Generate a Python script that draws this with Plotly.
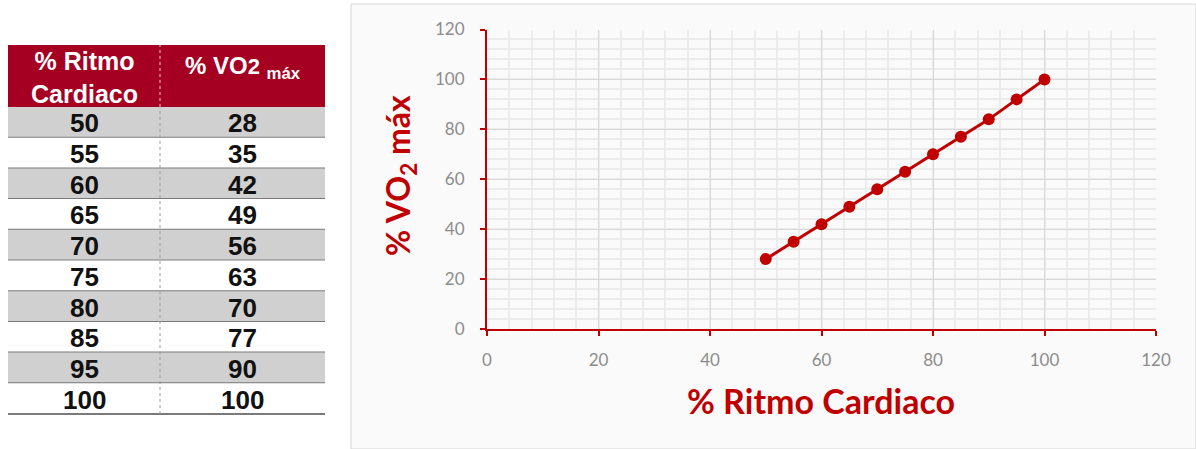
import plotly.graph_objects as go

# Table data (% heart rate -> % VO2 max)
table_hr = [50, 55, 60, 65, 70, 75, 80, 85, 95, 100]
table_vo2 = [28, 35, 42, 49, 56, 63, 70, 77, 90, 100]

# Series plotted in the chart
chart_hr = [50, 55, 60, 65, 70, 75, 80, 85, 90, 95, 100]
chart_vo2 = [28, 35, 42, 49, 56, 63, 70, 77, 84, 92, 100]

axis_ticks = [0, 20, 40, 60, 80, 100, 120]

W, H = 1196, 449
RED = "#C00000"
HEADER_RED = "#A50021"
TICK_GREY = "#8C8C8C"


def px(x):
    return x / W


def py(y):
    return 1 - y / H


shapes = []
annotations = []

# ---- chart panel -------------------------------------------------------
shapes.append(dict(type="rect", xref="paper", yref="paper", layer="below",
                   x0=px(351), x1=px(1196), y0=py(449), y1=py(4),
                   fillcolor="#fafafa", line=dict(color="#d6d6d6", width=1)))

# ---- table ---------------------------------------------------------------
tx0, tx1, tmid = 8, 325, 160
head_top, head_bot = 45, 107
row_h = 30.7
c1, c2 = (tx0 + tmid) / 2, (tmid + tx1) / 2

shapes.append(dict(type="rect", xref="paper", yref="paper",
                   x0=px(tx0), x1=px(tx1), y0=py(head_bot), y1=py(head_top),
                   fillcolor=HEADER_RED, line=dict(width=0)))
shapes.append(dict(type="line", xref="paper", yref="paper",
                   x0=px(tmid), x1=px(tmid), y0=py(head_bot), y1=py(head_top),
                   line=dict(color="#e8c8cc", width=1, dash="dot")))

annotations.append(dict(xref="paper", yref="paper", x=px(c1), y=py(77),
                        text="<b>% Ritmo<br>Cardiaco</b>", showarrow=False,
                        font=dict(family="Liberation Sans", size=25, color="white"),
                        xanchor="center", yanchor="middle"))
annotations.append(dict(xref="paper", yref="paper", x=px(c2), y=py(68),
                        text="<b>% VO<span style='font-size:22px'>2</span> "
                             "<sub>máx</sub></b>", showarrow=False,
                        font=dict(family="Liberation Sans", size=24, color="white"),
                        xanchor="center", yanchor="middle"))

for i, (hr, vo2) in enumerate(zip(table_hr, table_vo2)):
    top = head_bot + i * row_h
    bot = top + row_h
    fill = "#d0d0d0" if i % 2 == 0 else "#ffffff"
    shapes.append(dict(type="rect", xref="paper", yref="paper",
                       x0=px(tx0), x1=px(tx1), y0=py(bot), y1=py(top),
                       fillcolor=fill, line=dict(width=0)))
    shapes.append(dict(type="line", xref="paper", yref="paper",
                       x0=px(tx0), x1=px(tx1), y0=py(bot), y1=py(bot),
                       line=dict(color="#7a7a7a", width=2)))
    for cx, val in ((c1, hr), (c2, vo2)):
        annotations.append(dict(xref="paper", yref="paper", x=px(cx),
                                y=py((top + bot) / 2 + 1), text=f"<b>{val}</b>",
                                showarrow=False, xanchor="center", yanchor="middle",
                                font=dict(family="Liberation Sans", size=26,
                                          color="#111111")))

body_bot = head_bot + len(table_hr) * row_h
shapes.append(dict(type="line", xref="paper", yref="paper",
                   x0=px(tmid), x1=px(tmid), y0=py(body_bot), y1=py(head_bot),
                   line=dict(color="#9a9a9a", width=1, dash="dot")))

# ---- axis titles -----------------------------------------------------------
annotations.append(dict(xref="paper", yref="paper", x=px(400), y=py(176),
                        text="<b>% VO<sub>2</sub> máx</b>", textangle=-90,
                        showarrow=False, xanchor="center", yanchor="middle",
                        font=dict(family="Lato", size=32, color=RED)))
annotations.append(dict(xref="paper", yref="paper", x=px(821), y=py(400),
                        text="<b>% Ritmo Cardiaco</b>",
                        showarrow=False, xanchor="center", yanchor="middle",
                        font=dict(family="Lato", size=34, color=RED)))

fig = go.Figure()
fig.add_trace(go.Scatter(
    x=chart_hr, y=chart_vo2, mode="lines+markers",
    line=dict(color=RED, width=3),
    marker=dict(color=RED, size=12),
    showlegend=False, hoverinfo="x+y"))

axis_common = dict(
    range=[0, 120], tickvals=axis_ticks, showline=True, linecolor=RED, linewidth=2,
    ticks="outside", ticklen=5, tickwidth=2, tickcolor=RED,
    showgrid=True, gridcolor="#d9d9d9", gridwidth=1, zeroline=False,
    tickfont=dict(family="Lato", size=17, color=TICK_GREY),
    minor=dict(dtick=4, showgrid=True, gridcolor="#ececec", gridwidth=2, ticks=""),
    fixedrange=True, automargin=False,
)

fig.update_layout(
    width=W, height=H,
    margin=dict(l=0, r=0, t=0, b=0, pad=0),
    autosize=False,
    paper_bgcolor="white",
    plot_bgcolor="rgba(0,0,0,0)",
    xaxis=dict(domain=[px(487), px(1156)], ticklabelstandoff=10, **axis_common),
    yaxis=dict(domain=[py(329), py(29.5)], ticklabelstandoff=12, **axis_common),
    shapes=shapes,
    annotations=annotations,
)

fig.write_html("out.html")
